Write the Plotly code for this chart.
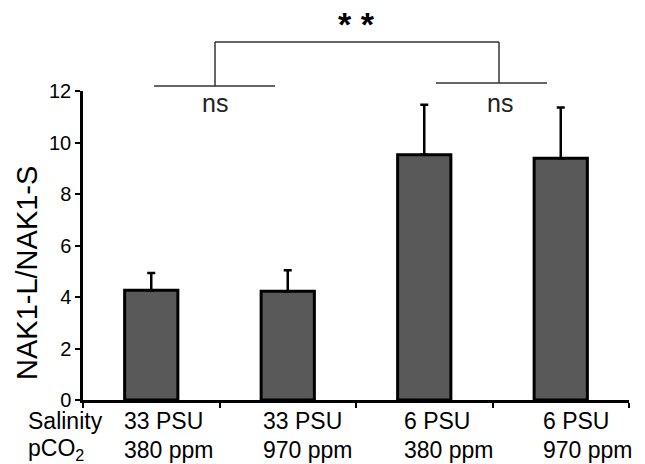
import plotly.graph_objects as go

categories = ["g1", "g2", "g3", "g4"]
salinity = ["33 PSU", "33 PSU", "6 PSU", "6 PSU"]
pco2 = ["380 ppm", "970 ppm", "380 ppm", "970 ppm"]
ratio = [4.26, 4.22, 9.52, 9.39]
ratio_err = [0.67, 0.82, 1.95, 1.97]
y_ticks = [0, 2, 4, 6, 8, 10, 12]

FONT = "Liberation Sans, Arial, sans-serif"

fig = go.Figure()
fig.add_trace(go.Bar(
    x=categories, y=ratio,
    marker=dict(color="#595959", line=dict(color="black", width=3)),
    error_y=dict(type="data", array=ratio_err, arrayminus=[0]*4, symmetric=False,
                 color="black", thickness=2.5, width=4),
    width=0.39,
))

L, R, T, B = 83, 16, 91, 64
W, H = 645, 464
pw, ph = W - L - R, H - T - B

def px(x):
    return (x - L) / pw

def py(y):
    return (H - B - y) / ph

line = dict(color="#333333", width=1.5)
shapes = [
    dict(type="line", xref="paper", yref="paper", x0=px(154), x1=px(275), y0=py(86), y1=py(86), line=line),
    dict(type="line", xref="paper", yref="paper", x0=px(215), x1=px(215), y0=py(86), y1=py(42), line=line),
    dict(type="line", xref="paper", yref="paper", x0=px(215), x1=px(499), y0=py(42), y1=py(42), line=line),
    dict(type="line", xref="paper", yref="paper", x0=px(499), x1=px(499), y0=py(42), y1=py(83), line=line),
    dict(type="line", xref="paper", yref="paper", x0=px(436), x1=px(547), y0=py(83), y1=py(83), line=line),
]

LBL = 23
label_shift = [-29, -27, -22, -20]
annotations = []
for c, s, p, sh in zip(categories, salinity, pco2, label_shift):
    annotations.append(dict(x=c, xref="x", xshift=sh, y=py(421.5), yref="paper", text=s, showarrow=False,
                            xanchor="left", yanchor="middle", font=dict(size=LBL, color="black", family=FONT)))
    annotations.append(dict(x=c, xref="x", xshift=sh, y=py(449.5), yref="paper", text=p, showarrow=False,
                            xanchor="left", yanchor="middle", font=dict(size=LBL, color="black", family=FONT)))
annotations.append(dict(x=px(26), xref="paper", y=py(421.5), yref="paper", text="Salinity", showarrow=False,
                        xanchor="left", yanchor="middle", font=dict(size=LBL, color="black", family=FONT)))
annotations.append(dict(x=px(26), xref="paper", y=py(449.5), yref="paper", text="pCO<sub>2</sub>", showarrow=False,
                        xanchor="left", yanchor="middle", font=dict(size=LBL, color="black", family=FONT)))
annotations.append(dict(x=px(215), xref="paper", y=py(103), yref="paper", text="ns", showarrow=False,
                        xanchor="center", yanchor="middle", font=dict(size=25, color="#222222", family=FONT)))
annotations.append(dict(x=px(500), xref="paper", y=py(103), yref="paper", text="ns", showarrow=False,
                        xanchor="center", yanchor="middle", font=dict(size=25, color="#222222", family=FONT)))
annotations.append(dict(x=px(356), xref="paper", y=py(24), yref="paper", text="<b>* *</b>", showarrow=False,
                        xanchor="center", yanchor="middle", font=dict(size=34, color="black", family=FONT)))
annotations.append(dict(x=px(27), xref="paper", y=py(273), yref="paper", text="NAK1-L/NAK1-S", showarrow=False,
                        textangle=-90, xanchor="center", yanchor="middle",
                        font=dict(size=29, color="black", family=FONT)))

fig.update_layout(
    width=W, height=H,
    margin=dict(l=L, r=R, t=T, b=B, pad=0),
    paper_bgcolor="white", plot_bgcolor="white",
    showlegend=False,
    shapes=shapes,
    annotations=annotations,
    font=dict(family=FONT, color="black"),
    xaxis=dict(
        range=[-0.5, 3.5], showticklabels=False, showline=True, linecolor="black", linewidth=2.5,
        ticks="outside", tickson="boundaries", ticklen=5, tickwidth=2, tickcolor="black",
        showgrid=False, zeroline=False,
    ),
    yaxis=dict(
        range=[0, 12], tickvals=y_ticks, showline=True, linecolor="black", linewidth=2.5,
        ticks="outside", ticklen=5, tickwidth=2, tickcolor="black",
        tickfont=dict(size=20, color="black", family=FONT),
        showgrid=False, zeroline=False,
    ),
)

fig.write_html("out.html", config={"displayModeBar": False},
               post_script="document.body.style.margin='0';")
